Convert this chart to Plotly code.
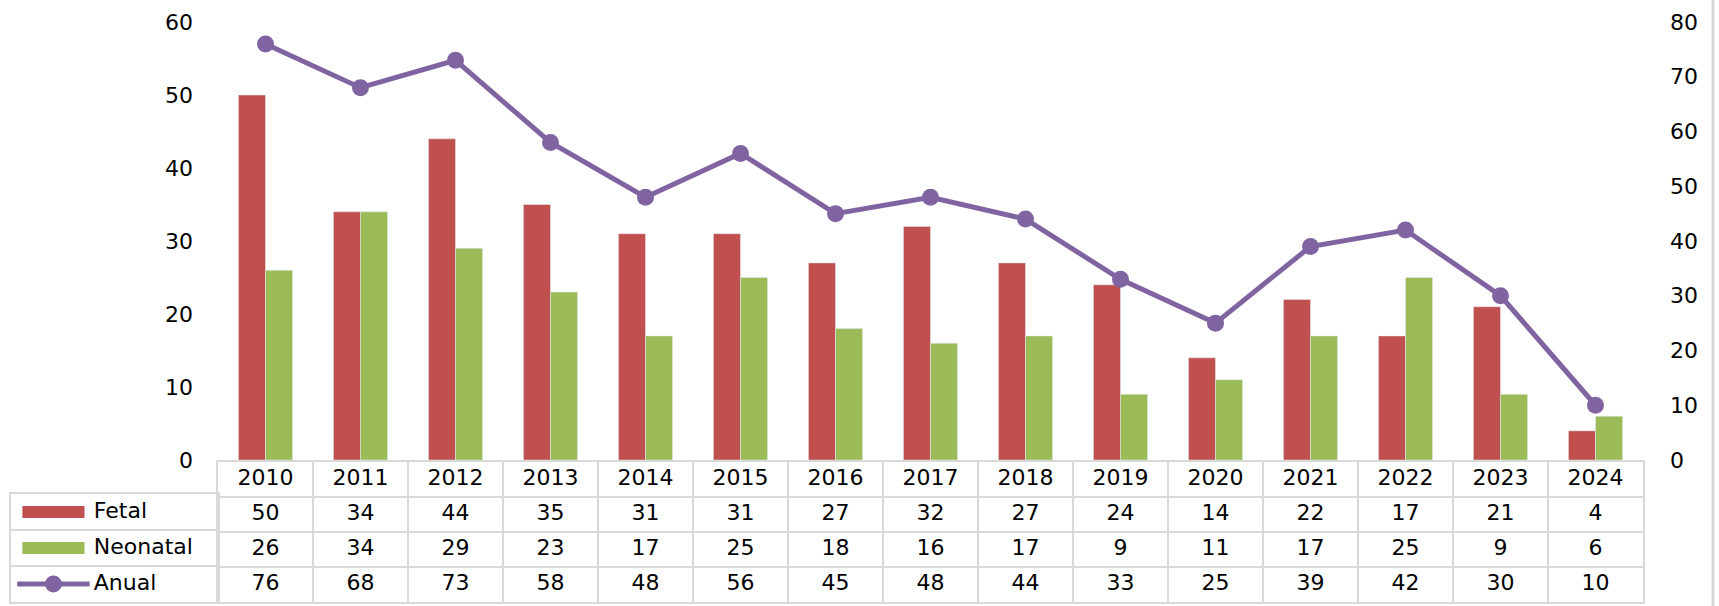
import plotly.graph_objects as go

years = ["2010", "2011", "2012", "2013", "2014", "2015", "2016", "2017",
         "2018", "2019", "2020", "2021", "2022", "2023", "2024"]
fetal = [50, 34, 44, 35, 31, 31, 27, 32, 27, 24, 14, 22, 17, 21, 4]
neonatal = [26, 34, 29, 23, 17, 25, 18, 16, 17, 9, 11, 17, 25, 9, 6]
anual = [76, 68, 73, 58, 48, 56, 45, 48, 44, 33, 25, 39, 42, 30, 10]
row_names = ["Fetal", "Neonatal", "Anual"]

W, H = 1719, 606
RED, GREEN, PURPLE = "#C0504D", "#9BBB59", "#8064A2"
GRID = "#d9d9d9"
FONT = "DejaVu Sans"
FS = 22


def px(x):
    return x / W


def py(y):
    return 1 - y / H


fig = go.Figure()

# bars (left axis) and annual line (right axis)
fig.add_trace(go.Bar(x=years, y=fetal, name="Fetal", marker_color=RED,
                     xaxis="x", yaxis="y"))
fig.add_trace(go.Bar(x=years, y=neonatal, name="Neonatal", marker_color=GREEN,
                     xaxis="x", yaxis="y"))
fig.add_trace(go.Scatter(x=years, y=anual, name="Anual", mode="lines+markers",
                         line=dict(color=PURPLE, width=5),
                         marker=dict(size=17, color=PURPLE),
                         xaxis="x", yaxis="y2"))

# data table under the chart
table_rows = ["Anual", "Neonatal", "Fetal", "year"]
tx, ty, tt = [], [], []
for i, yr in enumerate(years):
    tx.append(yr); ty.append("year"); tt.append(yr)
    for name, vals in zip(row_names, [fetal, neonatal, anual]):
        tx.append(yr); ty.append(name); tt.append(str(vals[i]))
fig.add_trace(go.Scatter(x=tx, y=ty, text=tt, mode="text",
                         textfont=dict(family=FONT, size=FS, color="#000"),
                         xaxis="x2", yaxis="y3", hoverinfo="skip"))

# legend column of the table
fig.add_trace(go.Scatter(x=[0.4] * 3, y=row_names, text=row_names, mode="text",
                         textposition="middle right",
                         textfont=dict(family=FONT, size=FS, color="#000"),
                         xaxis="x3", yaxis="y4", hoverinfo="skip"))
fig.add_trace(go.Scatter(x=[0.055, 0.355], y=["Fetal", "Fetal"], mode="lines",
                         line=dict(color=RED, width=12),
                         xaxis="x3", yaxis="y4", hoverinfo="skip"))
fig.add_trace(go.Scatter(x=[0.055, 0.355], y=["Neonatal", "Neonatal"], mode="lines",
                         line=dict(color=GREEN, width=12),
                         xaxis="x3", yaxis="y4", hoverinfo="skip"))
fig.add_trace(go.Scatter(x=[0.03, 0.38], y=["Anual"] * 2, mode="lines",
                         line=dict(color=PURPLE, width=5),
                         xaxis="x3", yaxis="y4", hoverinfo="skip"))
fig.add_trace(go.Scatter(x=[0.205], y=["Anual"], mode="markers",
                         marker=dict(size=17, color=PURPLE, opacity=1),
                         xaxis="x3", yaxis="y4", hoverinfo="skip"))

plot_dom = [px(218), px(1643)]
tick_font = dict(family=FONT, size=FS, color="#000")

fig.update_layout(
    width=W, height=H,
    margin=dict(l=0, r=0, t=0, b=0),
    paper_bgcolor="white", plot_bgcolor="rgba(0,0,0,0)",
    showlegend=False,
    barmode="group", bargap=0.43, bargroupgap=0,
    font=dict(family=FONT, size=FS, color="#000"),
    xaxis=dict(domain=plot_dom, type="category", range=[-0.5, 14.5],
               showticklabels=False, showgrid=False, showline=False,
               zeroline=False, ticks=""),
    yaxis=dict(domain=[py(460), py(22)], range=[0, 60], dtick=10,
               showgrid=False, zeroline=False, showline=False,
               tickfont=tick_font, ticklabelstandoff=24, automargin=False),
    yaxis2=dict(domain=[py(460), py(22)], range=[0, 80], dtick=10,
                overlaying="y", side="right", anchor="x",
                showgrid=False, zeroline=False, showline=False,
                tickfont=tick_font, ticklabelstandoff=26, automargin=False),
    xaxis2=dict(domain=plot_dom, type="category", range=[-0.5, 14.5],
                anchor="y3", tickson="boundaries", showgrid=True,
                gridcolor=GRID, gridwidth=2, showline=True, mirror=True,
                linecolor=GRID, linewidth=2, showticklabels=False,
                ticks="", zeroline=False, automargin=False),
    yaxis3=dict(domain=[py(602), py(462)], type="category",
                categoryorder="array", categoryarray=table_rows,
                range=[-0.5, 3.5], anchor="x2", tickson="boundaries",
                showgrid=True, gridcolor=GRID, gridwidth=2, showline=True,
                mirror=True, linecolor=GRID, linewidth=2,
                showticklabels=False, ticks="", zeroline=False,
                automargin=False),
    xaxis3=dict(domain=[px(11), px(218)], range=[0, 1], anchor="y4",
                showgrid=False, showline=True, mirror=True, linecolor=GRID,
                linewidth=2, showticklabels=False, ticks="",
                zeroline=False, automargin=False),
    yaxis4=dict(domain=[py(602), py(494)], type="category",
                categoryorder="array", categoryarray=row_names[::-1],
                range=[-0.5, 2.5], anchor="x3", tickson="boundaries",
                showgrid=True, gridcolor=GRID, gridwidth=2, showline=True,
                mirror=True, linecolor=GRID, linewidth=2,
                showticklabels=False, ticks="", zeroline=False,
                automargin=False),
    shapes=[dict(type="line", xref="paper", yref="paper",
                 x0=px(1713), x1=px(1713), y0=0, y1=1,
                 line=dict(color="#d6d6d6", width=3))],
)

# page margin off so the figure fills the window exactly
fig.write_html("out.html", config={"displayModeBar": False},
               post_script="document.body.style.margin='0';"
                           "document.body.style.overflow='hidden';")
